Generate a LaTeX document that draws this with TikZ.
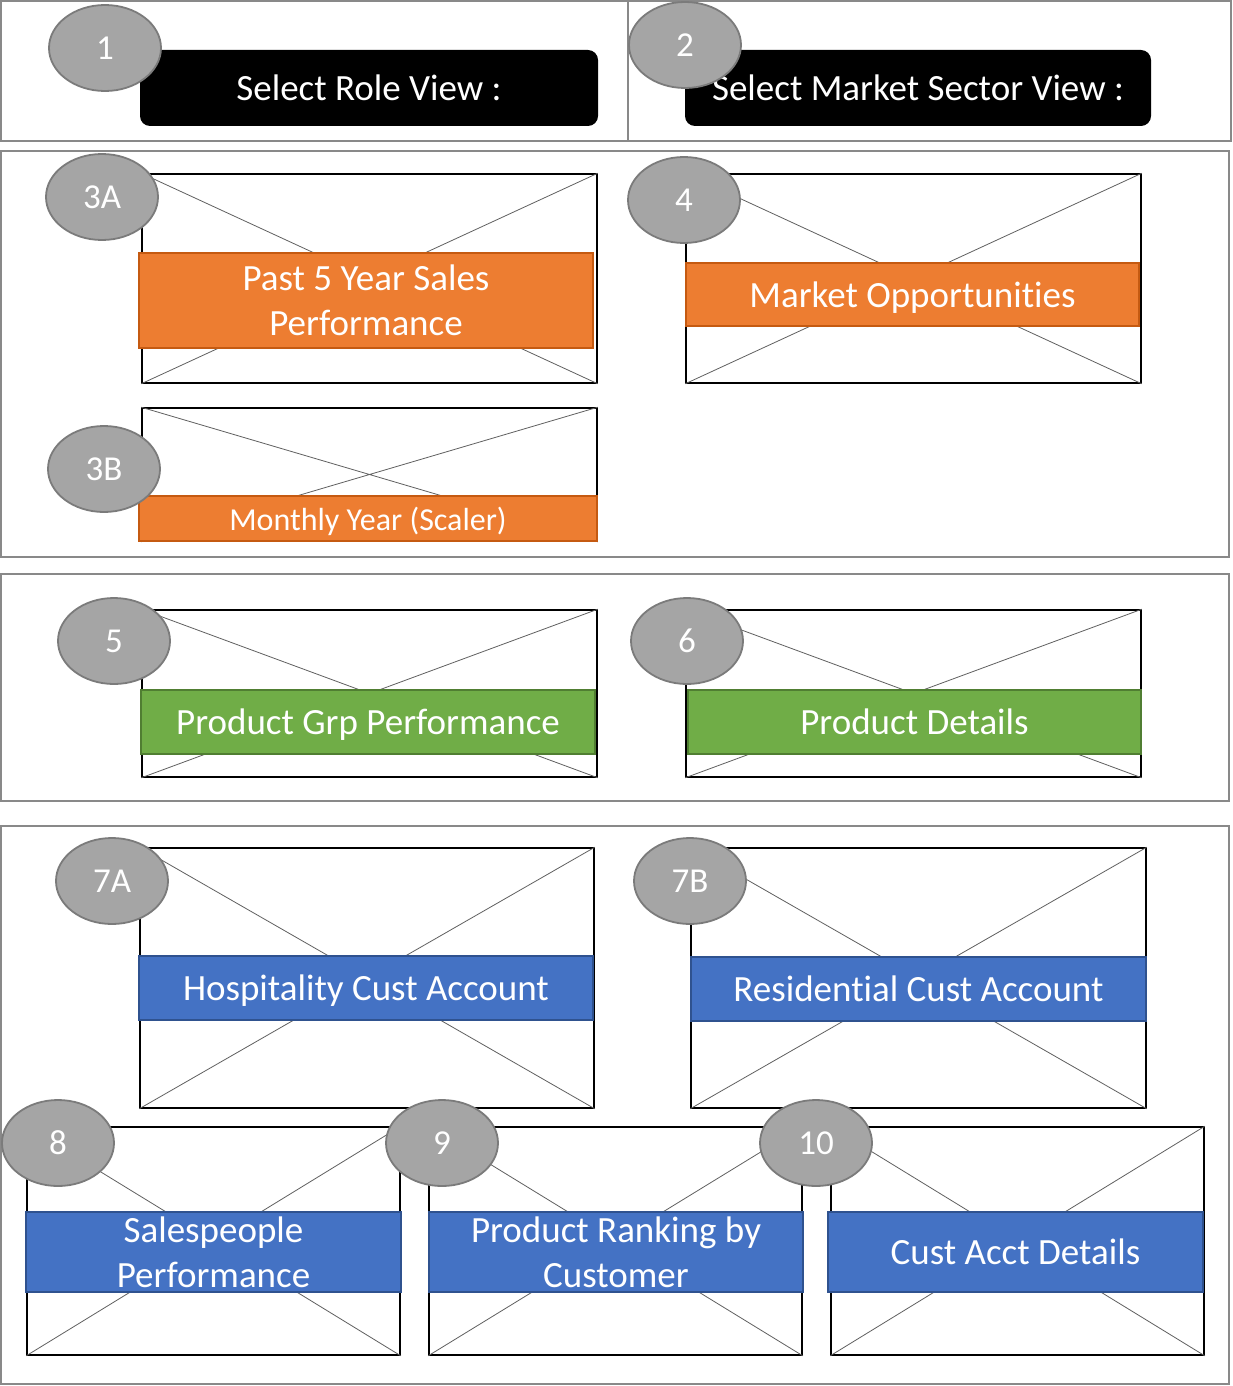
\documentclass[tikz,border=0pt]{standalone}
\usepackage{fontspec}
\setmainfont{Carlito}[Ligatures=NoCommon]
\usetikzlibrary{shapes.geometric}
\definecolor{panelgray}{HTML}{898989}
\definecolor{tagfill}{HTML}{A5A5A5}
\definecolor{tagline}{HTML}{7B7B7B}
\definecolor{crossgray}{HTML}{606060}
\definecolor{orangefill}{HTML}{ED7D31}
\definecolor{orangeline}{HTML}{C55A11}
\definecolor{greenfill}{HTML}{70AD47}
\definecolor{greenline}{HTML}{507E32}
\definecolor{bluefill}{HTML}{4472C4}
\definecolor{blueline}{HTML}{2F528F}
\tikzset{
  panel/.style={draw=panelgray,line width=2pt},
  imgbox/.style={draw=black,line width=1.6pt,fill=white,inner sep=0pt},
  cross/.style={draw=crossgray,line width=0.8pt},
  selector/.style={fill=black,rounded corners=10pt,inner sep=0pt,text=white,
                   font=\fontsize{37}{45}\selectfont},
  bar/.style={line width=1.8pt,inner sep=0pt,text=white,align=center,
              text depth=0pt,font=\fontsize{37}{45}\selectfont},
  orangebar/.style={bar,draw=orangeline,fill=orangefill},
  greenbar/.style={bar,draw=greenline,fill=greenfill},
  bluebar/.style={bar,draw=blueline,fill=bluefill},
  tag/.style={ellipse,draw=tagline,line width=1.8pt,fill=tagfill,inner sep=0pt,
              minimum width=112pt,minimum height=86pt,text=white,
              font=\fontsize{35}{42}\selectfont}
}
\begin{document}
\begin{tikzpicture}[x=1pt,y=-1pt]
\useasboundingbox (0,0) rectangle (1233,1386);
% panels
\draw[panel] (1,1) rectangle (1231,141);
\draw[panel] (628,1) -- (628,141);
\draw[panel] (1,151) rectangle (1229,557);
\draw[panel] (1,574) rectangle (1229,801);
\draw[panel] (1,826) rectangle (1229,1384);
% selectors
\node[selector,minimum width=458pt,minimum height=76pt] (role) at (369,88) {Select Role View :};
\node[selector,minimum width=466pt,minimum height=76pt] (sector) at (918,88) {Select Market Sector View :};
% image placeholders
\node[imgbox,minimum width=455pt,minimum height=209pt] (box3a) at (369.5,278.5) {};
\node[imgbox,minimum width=455pt,minimum height=209pt] (box4) at (913.5,278.5) {};
\node[imgbox,minimum width=455pt,minimum height=133pt] (box3b) at (369.5,474.5) {};
\node[imgbox,minimum width=455pt,minimum height=167pt] (box5) at (369.5,693.5) {};
\node[imgbox,minimum width=455pt,minimum height=167pt] (box6) at (913.5,693.5) {};
\node[imgbox,minimum width=454pt,minimum height=260pt] (box7a) at (367,978) {};
\node[imgbox,minimum width=455pt,minimum height=260pt] (box7b) at (918.5,978) {};
\node[imgbox,minimum width=373pt,minimum height=228pt] (box8) at (213.5,1241) {};
\node[imgbox,minimum width=373pt,minimum height=228pt] (box9) at (615.5,1241) {};
\node[imgbox,minimum width=373pt,minimum height=228pt] (box10) at (1017.5,1241) {};
\foreach \b in {box3a,box4,box3b,box5,box6,box7a,box7b,box8,box9,box10}
  \draw[cross] (\b.north west) -- (\b.south east) (\b.north east) -- (\b.south west);
% title bars
\node[orangebar,minimum width=454pt,minimum height=95pt] (bar3a) at (366,300.5) {Past 5 Year Sales\\Performance};
\node[orangebar,minimum width=453pt,minimum height=63pt] (bar4) at (912.5,294.5) {Market Opportunities};
\node[orangebar,minimum width=458pt,minimum height=45pt,font=\fontsize{32}{38}\selectfont] (bar3b) at (368,518.5) {Monthly Year (Scaler)};
\node[greenbar,minimum width=454pt,minimum height=64pt] (bar5) at (368,722) {Product Grp Performance};
\node[greenbar,minimum width=453pt,minimum height=64pt] (bar6) at (914.5,722) {Product Details};
\node[bluebar,minimum width=454pt,minimum height=64pt] (bar7a) at (366,988) {Hospitality Cust Account};
\node[bluebar,minimum width=455pt,minimum height=64pt] (bar7b) at (918.5,989) {Residential Cust Account};
\node[bluebar,minimum width=375pt,minimum height=80pt] (bar8) at (213.5,1252) {Salespeople\\Performance};
\node[bluebar,minimum width=374pt,minimum height=80pt] (bar9) at (616,1252) {Product Ranking by\\Customer};
\node[bluebar,minimum width=375pt,minimum height=80pt] (bar10) at (1015.5,1252) {Cust Acct Details};
% number tags
\node[tag] (num1) at (105,48) {1};
\node[tag] (num2) at (685,45) {2};
\node[tag] (num3a) at (102,197) {3A};
\node[tag] (num4) at (684,200) {4};
\node[tag] (num3b) at (104,469) {3B};
\node[tag] (num5) at (114,641) {5};
\node[tag] (num6) at (687,641) {6};
\node[tag] (num7a) at (112,881) {7A};
\node[tag] (num7b) at (690,881) {7B};
\node[tag] (num8) at (58,1143) {8};
\node[tag] (num9) at (442,1143) {9};
\node[tag] (num10) at (816,1143) {10};
\end{tikzpicture}
\end{document}
